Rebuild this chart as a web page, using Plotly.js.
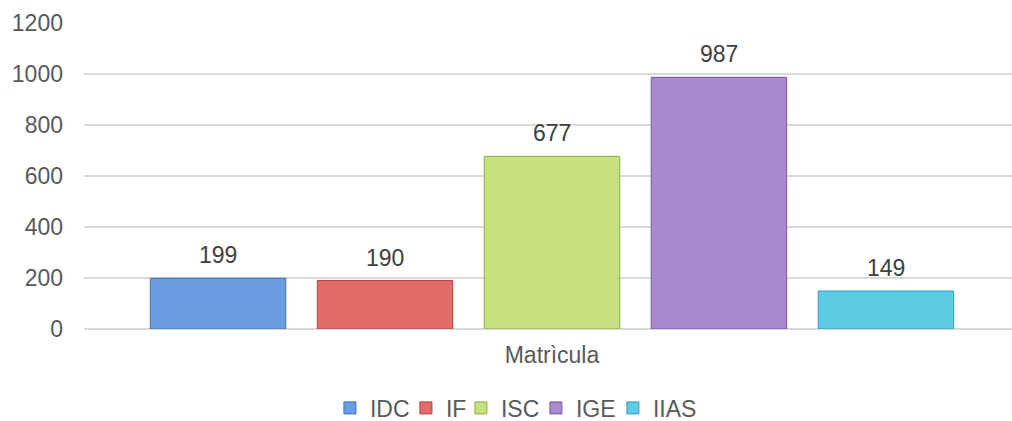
<!DOCTYPE html>
<html><head><meta charset="utf-8">
<script src="https://cdn.plot.ly/plotly-3.0.1.min.js"></script>
<style>html,body{margin:0;padding:0;background:#fff}#chart{width:1012px;height:421px}</style>
</head><body><div id="chart"></div>
<script>
const categories = ["Matrìcula"];
const seriesNames = ["IDC", "IF", "ISC", "IGE", "IIAS"];
const seriesValues = [199, 190, 677, 987, 149];
const yTickVals = [0, 200, 400, 600, 800, 1000, 1200];
const fillColors = ["#6b9de2", "#e36c69", "#c5e27c", "#a98acf", "#5ccbe4"];
const edgeColors = ["#3f6fae", "#b04442", "#8fad4b", "#7356a0", "#3a9bb5"];
const legendWidths = [31, 10, 30, 32, 45];

const BARGAP = 0.108, GROUPGAP = 0.189;
const FONT = 'Arial, "Liberation Sans", sans-serif';

const traces = seriesNames.map((n, i) => ({
  type: 'bar', name: n, x: categories, y: [seriesValues[i]],
  marker: {color: fillColors[i], line: {color: edgeColors[i], width: 1}},
  legendwidth: legendWidths[i],
  hoverinfo: 'none'
}));

const slot = (1 - BARGAP) / seriesNames.length;
const annotations = seriesNames.map((n, i) => ({
  xref: 'x', yref: 'y',
  x: -(1 - BARGAP) / 2 + (i + 0.5) * slot,
  y: seriesValues[i],
  text: String(seriesValues[i]),
  showarrow: false, yanchor: 'middle', yshift: 23,
  font: {family: FONT, size: 23, color: '#404040'}
}));

const layout = {
  width: 1012, height: 421,
  margin: {l: 84, r: 0, t: 23, b: 92},
  paper_bgcolor: '#ffffff', plot_bgcolor: '#ffffff',
  font: {family: FONT, size: 23, color: '#595959'},
  barmode: 'group', bargap: BARGAP, bargroupgap: GROUPGAP,
  xaxis: {type: 'category', range: [-0.5, 0.4915], showgrid: false, showline: false,
          zeroline: false, ticks: '', ticklabelstandoff: 10, automargin: false},
  yaxis: {range: [0, 1200], tickvals: yTickVals, gridcolor: '#d9d9d9', gridwidth: 1.5,
          zeroline: true, zerolinecolor: '#d9d9d9', zerolinewidth: 1.5,
          showline: false, ticks: '', ticklabelstandoff: 20, automargin: false},
  showlegend: true,
  legend: {orientation: 'h', xref: 'paper', x: 0.265, xanchor: 'left',
           yref: 'container', y: 0.031, yanchor: 'middle',
           font: {family: FONT, size: 23, color: '#595959'}},
  annotations: annotations
};

Plotly.newPlot('chart', traces, layout, {displayModeBar: false, staticPlot: true});
</script>
</body></html>
